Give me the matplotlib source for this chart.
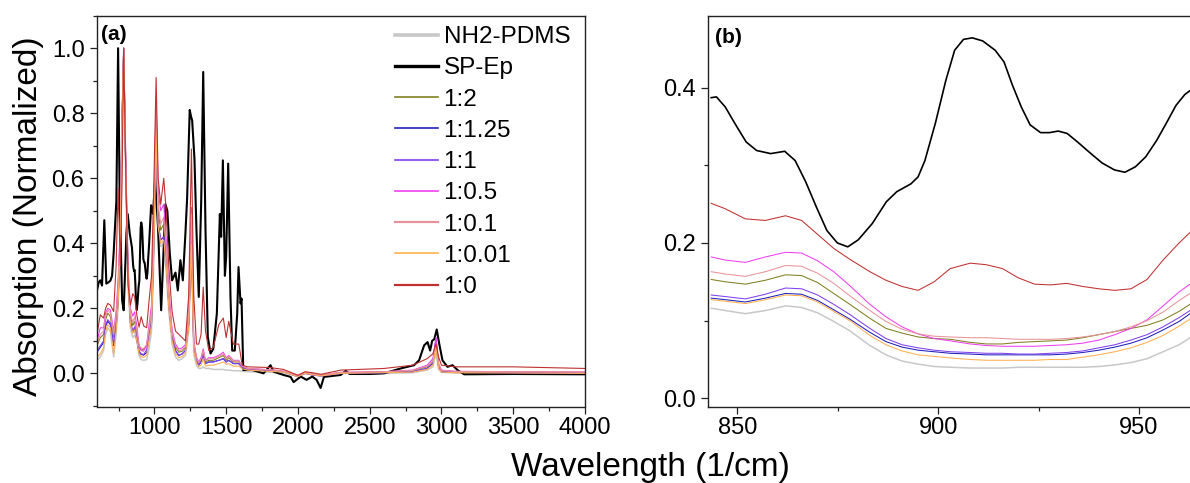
import matplotlib
matplotlib.use("Agg")
import matplotlib.pyplot as plt
from matplotlib.ticker import MultipleLocator

plt.rcParams['font.family'] = ['Liberation Sans', 'DejaVu Sans']

# ---------------- data: panel (a) full spectra ----------------
labels = ["NH2-PDMS", "SP-Ep", "1:2", "1:1.25", "1:1", "1:0.5", "1:0.1", "1:0.01", "1:0"]
colors = ["#C8C8C8", "#000000", "#808020", "#2020C0", "#8040F0",
          "#F040F0", "#E8939B", "#FFB050", "#C03030"]

# SP-Ep (own wavenumber grid)
a_wn_spep = [600, 612, 623, 635, 651, 665, 680, 693, 705, 716, 735, 747, 758, 775, 786,
             805, 814, 828, 843.5, 852, 858, 862, 867, 872, 877.5, 883.6, 889.7, 895,
             899, 904, 908.5, 914, 918.5, 923, 927.7, 932, 938, 943.9, 946.5, 951.7, 957,
             962.7, 977, 991, 1005, 1025, 1047, 1077, 1090, 1107, 1123, 1147, 1163, 1181,
             1198, 1216, 1228, 1246, 1255, 1263, 1279, 1293, 1309, 1326, 1340, 1356, 1372,
             1391, 1410, 1435, 1456, 1465, 1477, 1491, 1500, 1514, 1530, 1542, 1560, 1577,
             1586, 1600, 1607, 1619, 1670, 1760, 1809, 1830, 1900, 1949, 1970, 1990, 2020,
             2060, 2100, 2130, 2158, 2181, 2240, 2298, 2333, 2360, 2500, 2600, 2716, 2809,
             2844, 2879, 2903, 2921, 2935, 2950, 2967, 2984, 3007, 3042, 3077, 3112, 3158,
             3500, 4000]
a_spep = [0.255, 0.28, 0.286, 0.27, 0.471, 0.276, 0.28, 0.285, 0.30, 0.37, 0.532, 1.000,
          0.530, 0.225, 0.194, 0.430, 0.490, 0.430, 0.387, 0.330, 0.315, 0.318, 0.279,
          0.216, 0.195, 0.225, 0.266, 0.285, 0.354, 0.448, 0.464, 0.448, 0.403, 0.352,
          0.342, 0.341, 0.316, 0.294, 0.291, 0.311, 0.356, 0.395, 0.517, 0.490, 0.600,
          0.450, 0.194, 0.520, 0.500, 0.370, 0.286, 0.310, 0.255, 0.348, 0.286, 0.430,
          0.540, 0.810, 0.790, 0.778, 0.660, 0.440, 0.235, 0.530, 0.927, 0.440, 0.112,
          0.061, 0.075, 0.184, 0.490, 0.420, 0.655, 0.300, 0.360, 0.645, 0.235, 0.070,
          0.070, 0.184, 0.327, 0.215, 0.230, 0.010, 0.012, 0.000, 0.025, 0.005, -0.005,
          -0.011, -0.027, -0.020, -0.010, -0.020, -0.010, -0.020, -0.045, -0.011, -0.008,
          -0.005, 0.008, -0.002, -0.002, 0.000, 0.015, 0.025, 0.040, 0.086, 0.096, 0.070,
          0.100, 0.105, 0.135, 0.092, 0.040, 0.020, 0.025, 0.010, -0.003, -0.002, -0.003]

# common wavenumber grid for the PDMS and mixture spectra
a_wn = [600, 623, 646, 660, 675, 693, 716, 733, 747, 763, 775, 786, 800, 817, 833, 849,
        862, 878, 893, 908, 925, 946, 962, 980, 995, 1012, 1026, 1044, 1065, 1082, 1100,
        1123, 1147, 1170, 1193, 1216, 1239, 1258, 1274, 1293, 1309, 1325, 1340, 1356,
        1379, 1410, 1449, 1480, 1500, 1518, 1550, 1588, 1612, 1650, 1800, 1900, 2000,
        2050, 2100, 2160, 2300, 2600, 2800, 2900, 2940, 2962, 2980, 3000, 3100, 3500, 4000]

a_pdms = [0.040, 0.050, 0.070, 0.120, 0.140, 0.130, 0.050, 0.120, 0.200, 0.400, 0.750,
          1.000, 0.600, 0.260, 0.140, 0.110, 0.118, 0.100, 0.055, 0.042, 0.040, 0.042,
          0.075, 0.130, 0.330, 0.720, 0.440, 0.390, 0.400, 0.310, 0.190, 0.090, 0.050,
          0.040, 0.045, 0.055, 0.130, 0.380, 0.060, 0.025, 0.015, 0.015, 0.020, 0.015,
          0.015, 0.012, 0.012, 0.012, 0.010, 0.010, 0.008, 0.008, 0.006, 0.005, 0.003,
          0.002, -0.008, 0.000, -0.002, -0.006, 0.000, 0.000, 0.002, 0.010, 0.020, 0.060,
          0.012, 0.003, 0.001, 0.000, -0.002]
a_r1_2 = [0.085, 0.110, 0.120, 0.165, 0.185, 0.175, 0.110, 0.170, 0.260, 0.440, 0.790,
          1.000, 0.650, 0.300, 0.175, 0.147, 0.160, 0.120, 0.080, 0.071, 0.074, 0.087,
          0.120, 0.180, 0.420, 0.800, 0.500, 0.440, 0.460, 0.370, 0.235, 0.120, 0.080,
          0.065, 0.068, 0.078, 0.170, 0.470, 0.090, 0.045, 0.030, 0.040, 0.065, 0.035,
          0.040, 0.040, 0.048, 0.055, 0.040, 0.048, 0.035, 0.035, 0.020, 0.014, 0.010,
          0.006, -0.008, 0.002, -0.003, -0.006, 0.002, 0.004, 0.008, 0.020, 0.035, 0.085,
          0.025, 0.008, 0.005, 0.004, 0.003]
a_r1_125 = [0.065, 0.080, 0.095, 0.145, 0.160, 0.150, 0.085, 0.140, 0.220, 0.420, 0.780,
            1.000, 0.630, 0.285, 0.155, 0.125, 0.136, 0.101, 0.064, 0.058, 0.056, 0.064,
            0.107, 0.155, 0.380, 0.750, 0.460, 0.410, 0.420, 0.340, 0.215, 0.110, 0.070,
            0.055, 0.060, 0.070, 0.150, 0.410, 0.080, 0.040, 0.025, 0.035, 0.055, 0.030,
            0.035, 0.035, 0.040, 0.045, 0.035, 0.040, 0.030, 0.030, 0.018, 0.012, 0.008,
            0.005, -0.010, 0.000, -0.005, -0.008, 0.000, 0.002, 0.005, 0.015, 0.030, 0.105,
            0.020, 0.005, 0.003, 0.002, 0.000]
a_r1_1 = [0.070, 0.085, 0.100, 0.150, 0.165, 0.155, 0.090, 0.145, 0.225, 0.425, 0.780,
          1.000, 0.640, 0.290, 0.160, 0.130, 0.143, 0.107, 0.069, 0.060, 0.058, 0.072,
          0.112, 0.160, 0.390, 0.750, 0.460, 0.410, 0.420, 0.340, 0.215, 0.110, 0.070,
          0.055, 0.060, 0.070, 0.150, 0.410, 0.081, 0.040, 0.025, 0.035, 0.055, 0.030,
          0.035, 0.035, 0.040, 0.045, 0.035, 0.040, 0.030, 0.030, 0.018, 0.012, 0.008,
          0.005, -0.010, 0.000, -0.005, -0.008, 0.000, 0.002, 0.005, 0.015, 0.030, 0.110,
          0.020, 0.005, 0.003, 0.002, 0.000]
a_r1_05 = [0.100, 0.140, 0.140, 0.185, 0.200, 0.195, 0.130, 0.190, 0.290, 0.460, 0.800,
           1.000, 0.670, 0.320, 0.200, 0.176, 0.189, 0.144, 0.087, 0.070, 0.068, 0.086,
           0.148, 0.210, 0.470, 0.850, 0.560, 0.500, 0.520, 0.410, 0.260, 0.135, 0.090,
           0.075, 0.078, 0.088, 0.190, 0.510, 0.100, 0.050, 0.035, 0.048, 0.075, 0.040,
           0.048, 0.048, 0.055, 0.065, 0.048, 0.055, 0.040, 0.040, 0.022, 0.015, 0.011,
           0.007, -0.006, 0.003, -0.002, -0.005, 0.003, 0.005, 0.010, 0.025, 0.045, 0.110,
           0.030, 0.010, 0.006, 0.005, 0.004]
a_r1_01 = [0.090, 0.120, 0.130, 0.175, 0.195, 0.185, 0.120, 0.180, 0.270, 0.450, 0.790,
           1.000, 0.660, 0.310, 0.185, 0.157, 0.172, 0.131, 0.085, 0.078, 0.076, 0.088,
           0.135, 0.190, 0.440, 0.820, 0.520, 0.460, 0.480, 0.385, 0.245, 0.125, 0.085,
           0.070, 0.072, 0.082, 0.180, 0.490, 0.095, 0.048, 0.032, 0.045, 0.070, 0.038,
           0.045, 0.045, 0.052, 0.060, 0.045, 0.052, 0.038, 0.038, 0.022, 0.015, 0.011,
           0.007, -0.006, 0.003, -0.002, -0.005, 0.003, 0.005, 0.009, 0.022, 0.038, 0.090,
           0.028, 0.009, 0.006, 0.005, 0.004]
a_r1_001 = [0.050, 0.060, 0.080, 0.130, 0.150, 0.140, 0.060, 0.130, 0.210, 0.410, 0.760,
            1.000, 0.610, 0.270, 0.150, 0.123, 0.134, 0.099, 0.060, 0.051, 0.049, 0.056,
            0.101, 0.150, 0.360, 0.740, 0.450, 0.400, 0.410, 0.330, 0.205, 0.100, 0.060,
            0.048, 0.052, 0.062, 0.140, 0.395, 0.070, 0.032, 0.020, 0.025, 0.045, 0.022,
            0.025, 0.025, 0.030, 0.035, 0.028, 0.030, 0.022, 0.022, 0.014, 0.010, 0.006,
            0.004, -0.010, 0.000, -0.004, -0.008, 0.000, 0.002, 0.004, 0.012, 0.025, 0.080,
            0.015, 0.004, 0.002, 0.001, 0.000]
a_r1_0 = [0.120, 0.180, 0.170, 0.200, 0.215, 0.210, 0.190, 0.330, 0.570, 0.330, 0.600,
          1.000, 0.620, 0.270, 0.210, 0.245, 0.236, 0.178, 0.142, 0.174, 0.146, 0.140,
          0.220, 0.300, 0.560, 0.910, 0.600, 0.520, 0.600, 0.500, 0.330, 0.190, 0.130,
          0.120, 0.110, 0.100, 0.240, 0.690, 0.240, 0.090, 0.090, 0.120, 0.265, 0.130,
          0.070, 0.080, 0.150, 0.170, 0.110, 0.160, 0.090, 0.090, 0.025, 0.020, 0.018,
          0.012, -0.006, 0.005, 0.002, -0.003, 0.010, 0.015, 0.025, 0.045, 0.060, 0.090,
          0.050, 0.025, 0.020, 0.020, 0.015]

# ---------------- data: panel (b) zoom 843-963 1/cm ----------------
b_wn_spep = [843.5, 844.8, 847, 849.6, 852.2, 854.8, 858.3, 861.8, 864.4, 867, 869.7,
             872.3, 874.9, 877.5, 880.1, 883.6, 887.1, 889.7, 893.2, 895, 896.7, 899.3,
             901.9, 904.1, 906.3, 908.5, 911.1, 914.2, 916.4, 918.5, 920.7, 922.9, 925.5,
             927.7, 929.9, 932.1, 934.7, 937.8, 940.8, 943.9, 946.5, 949.1, 951.7, 954.4,
             957, 959.2, 961.4, 962.7]
b_spep = [0.387, 0.388, 0.375, 0.352, 0.330, 0.319, 0.315, 0.318, 0.306, 0.279, 0.246,
          0.216, 0.200, 0.195, 0.204, 0.225, 0.253, 0.266, 0.276, 0.285, 0.306, 0.354,
          0.409, 0.448, 0.462, 0.464, 0.460, 0.448, 0.433, 0.403, 0.375, 0.352, 0.342,
          0.342, 0.344, 0.341, 0.330, 0.316, 0.303, 0.294, 0.291, 0.298, 0.311, 0.332,
          0.356, 0.377, 0.391, 0.396]

b_wn = [843.5, 847, 852, 857, 862, 866, 870, 874, 878, 883, 887, 891, 895, 899, 903, 908,
        912, 916, 920, 924, 928, 932, 936, 940, 944, 948, 952, 956, 960, 963]
b_pdms = [0.116, 0.113, 0.109, 0.113, 0.119, 0.117, 0.110, 0.099, 0.087, 0.068, 0.056,
          0.048, 0.044, 0.041, 0.040, 0.039, 0.039, 0.039, 0.040, 0.040, 0.040, 0.040,
          0.040, 0.041, 0.043, 0.046, 0.051, 0.060, 0.069, 0.079]
b_r1_2 = [0.153, 0.150, 0.147, 0.152, 0.159, 0.158, 0.149, 0.135, 0.121, 0.103, 0.090,
          0.084, 0.079, 0.077, 0.076, 0.072, 0.070, 0.070, 0.072, 0.073, 0.074, 0.075,
          0.078, 0.082, 0.086, 0.090, 0.094, 0.101, 0.112, 0.122]
b_r1_125 = [0.129, 0.127, 0.124, 0.129, 0.135, 0.134, 0.126, 0.114, 0.102, 0.085, 0.073,
            0.066, 0.062, 0.060, 0.058, 0.057, 0.056, 0.056, 0.056, 0.056, 0.056, 0.057,
            0.059, 0.062, 0.066, 0.071, 0.078, 0.088, 0.099, 0.110]
b_r1_1 = [0.133, 0.131, 0.128, 0.134, 0.142, 0.141, 0.133, 0.121, 0.108, 0.090, 0.077,
          0.069, 0.065, 0.062, 0.060, 0.059, 0.058, 0.058, 0.057, 0.057, 0.058, 0.059,
          0.061, 0.065, 0.069, 0.075, 0.082, 0.092, 0.104, 0.114]
b_r1_05 = [0.182, 0.178, 0.175, 0.182, 0.188, 0.187, 0.177, 0.163, 0.145, 0.121, 0.105,
           0.092, 0.083, 0.077, 0.074, 0.070, 0.068, 0.067, 0.067, 0.067, 0.068, 0.069,
           0.071, 0.075, 0.082, 0.090, 0.101, 0.119, 0.137, 0.148]
b_r1_01 = [0.163, 0.160, 0.157, 0.163, 0.171, 0.170, 0.161, 0.148, 0.132, 0.113, 0.099,
           0.089, 0.083, 0.080, 0.079, 0.078, 0.078, 0.077, 0.076, 0.076, 0.076, 0.077,
           0.079, 0.082, 0.086, 0.092, 0.100, 0.111, 0.126, 0.136]
b_r1_001 = [0.127, 0.125, 0.122, 0.127, 0.133, 0.132, 0.124, 0.112, 0.100, 0.081, 0.069,
            0.061, 0.056, 0.054, 0.052, 0.050, 0.049, 0.049, 0.049, 0.049, 0.050, 0.050,
            0.053, 0.056, 0.060, 0.065, 0.072, 0.081, 0.093, 0.103]
b_r1_0 = [0.251, 0.244, 0.231, 0.229, 0.235, 0.229, 0.211, 0.193, 0.179, 0.163, 0.152,
          0.144, 0.139, 0.150, 0.167, 0.174, 0.172, 0.167, 0.155, 0.147, 0.146, 0.148,
          0.144, 0.141, 0.139, 0.141, 0.153, 0.178, 0.200, 0.215]

a_tick_labels = ["1000", "1500", "2000", "2500", "3000", "3500", "4000"]
b_tick_labels = ["850", "900", "950"]

# ---------------- figure ----------------
W, H = 1190, 483
fig = plt.figure(figsize=(W / 100, H / 100), dpi=100)

def fx(px):
    return px / W

def fy(py):
    return 1 - py / H

axa = fig.add_axes([fx(97), fy(406.5), fx(585) - fx(97), fy(15.7) - fy(406.5)])
axb = fig.add_axes([fx(708), fy(406.5), 1.0 - fx(708), fy(15.7) - fy(406.5)])

a_series = [a_pdms, None, a_r1_2, a_r1_125, a_r1_1, a_r1_05, a_r1_01, a_r1_001, a_r1_0]
b_series = [b_pdms, None, b_r1_2, b_r1_125, b_r1_1, b_r1_05, b_r1_01, b_r1_001, b_r1_0]
lw_a = [1.1, 1.5, 0.8, 0.8, 0.8, 0.8, 0.8, 0.8, 0.8]
lw_b = [1.1, 1.2, 0.75, 0.75, 0.75, 0.75, 0.75, 0.75, 0.75]

for i, lab in enumerate(labels):
    if lab == "SP-Ep":
        axa.plot(a_wn_spep, a_spep, color=colors[i], lw=lw_a[i], label=lab)
        axb.plot(b_wn_spep, b_spep, color=colors[i], lw=lw_b[i], label=lab)
    else:
        axa.plot(a_wn, a_series[i], color=colors[i], lw=lw_a[i], label=lab)
        axb.plot(b_wn, b_series[i], color=colors[i], lw=lw_b[i], label=lab)

# panel (a) axes
axa.set_xlim(600, 4000)
axa.set_ylim(-0.102, 1.10)
axa.set_xticks([1000, 1500, 2000, 2500, 3000, 3500, 4000])
axa.set_xticklabels(a_tick_labels)
axa.set_yticks([0.0, 0.2, 0.4, 0.6, 0.8, 1.0])
axa.set_yticklabels(["0.0", "0.2", "0.4", "0.6", "0.8", "1.0"])
axa.xaxis.set_minor_locator(MultipleLocator(250))
axa.yaxis.set_minor_locator(MultipleLocator(0.1))

# panel (b) axes
axb.set_xlim(842.7, 962.7)
axb.set_ylim(-0.0105, 0.4925)
axb.set_xticks([850, 900, 950])
axb.set_xticklabels(b_tick_labels)
axb.set_yticks([0.0, 0.2, 0.4])
axb.set_yticklabels(["0.0", "0.2", "0.4"])
axb.xaxis.set_minor_locator(MultipleLocator(25))
axb.yaxis.set_minor_locator(MultipleLocator(0.1))
axb.spines['right'].set_visible(False)

for ax in (axa, axb):
    for sp in ax.spines.values():
        sp.set_linewidth(1.0)
        sp.set_color("#222222")
    ax.tick_params(which='major', direction='out', length=5, width=0.9,
                   labelsize=17, pad=2.5, color="#222222")
    ax.tick_params(which='minor', direction='out', length=3, width=0.9, color="#222222")
    ax.tick_params(axis='y', which='major', pad=4)

axa.text(0.008, 0.975, "(a)", transform=axa.transAxes, fontsize=15,
         fontweight='bold', ha='left', va='top')
fig.text(fx(715), fy(28), "(b)", fontsize=15, fontweight='bold', ha='left', va='top')

leg = axa.legend(loc='upper left', bbox_to_anchor=(fx(395), fy(26)),
                 bbox_transform=fig.transFigure, frameon=False, fontsize=17.5,
                 handlelength=1.75, handletextpad=0.25, labelspacing=0.38,
                 borderpad=0, borderaxespad=0)
leg_lw = [2.6, 2.4, 1.2, 1.2, 1.2, 1.2, 1.6, 1.2, 1.6]
for ln, w in zip(leg.get_lines(), leg_lw):
    ln.set_linewidth(w)

fig.text(fx(650), fy(476), "Wavelength (1/cm)", fontsize=24, ha='center', va='baseline')
fig.text(fx(29), fy(216), "Absorption (Normalized)", fontsize=24, rotation=90,
         ha='center', va='center')

fig.savefig("out.png", dpi=100)
